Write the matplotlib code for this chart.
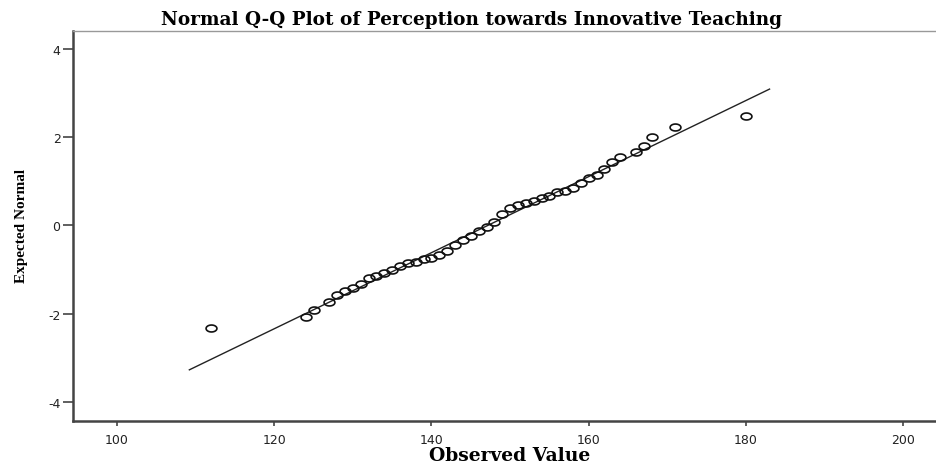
import matplotlib
matplotlib.use('Agg')
import matplotlib.pyplot as plt
import numpy as np
from matplotlib.path import Path

observed = [112, 124, 125, 127, 128, 129, 130, 131, 132, 133, 134, 135, 136, 137,
            138, 139, 140, 141, 142, 143, 144, 145, 146, 147, 148, 149, 150, 151,
            152, 153, 154, 155, 156, 157, 158, 159, 160, 161, 162, 163, 164, 166,
            167, 168, 171, 180]
expected = [-2.34, -2.07, -1.91, -1.74, -1.58, -1.49, -1.43, -1.32, -1.20, -1.15,
            -1.08, -1.01, -0.93, -0.85, -0.82, -0.77, -0.73, -0.67, -0.57, -0.44,
            -0.33, -0.23, -0.13, -0.04, 0.09, 0.25, 0.39, 0.46, 0.51, 0.56,
            0.62, 0.67, 0.75, 0.79, 0.86, 0.96, 1.07, 1.15, 1.29, 1.45,
            1.55, 1.66, 1.81, 2.00, 2.23, 2.48]

# reference line endpoints
line_x = [109.2, 183.0]
line_y = [-3.28, 3.10]

x_ticks = [100, 120, 140, 160, 180, 200]
y_ticks = [-4, -2, 0, 2, 4]

# slightly flattened open circle, as in the original export
t = np.linspace(0, 2 * np.pi, 60)
ellipse = Path(np.column_stack([np.cos(t), 0.64 * np.sin(t)]), closed=True)

fig = plt.figure(figsize=(9.37, 4.64), dpi=100)
ax = fig.add_axes([73 / 937, 42.3 / 464, 1 - 73 / 937, (421.7 - 32) / 464])

ax.plot(line_x, line_y, color='#222222', linewidth=1.0, zorder=2)
ax.plot(observed, expected, linestyle='none', marker=ellipse, markersize=7.8,
        markerfacecolor='none', markeredgecolor='#111111', markeredgewidth=1.2, zorder=3)

ax.set_xlim(94.4, 204.3)
ax.set_ylim(-4.436, 4.42)
ax.set_xticks(x_ticks)
ax.set_yticks(y_ticks)
ax.set_xticklabels([str(v) for v in x_ticks], fontsize=9, family='DejaVu Sans', color='#222222')
ax.set_yticklabels([str(v) for v in y_ticks], fontsize=9, family='DejaVu Sans', color='#222222')
ax.tick_params(axis='x', direction='out', length=3.6, width=1.2, color='#444444', pad=5)
ax.tick_params(axis='y', direction='out', length=7, width=1.2, color='#444444', pad=2)

ax.spines['right'].set_visible(False)
ax.spines['top'].set_color('#999999')
ax.spines['top'].set_linewidth(1.0)
for side in ['left', 'bottom']:
    ax.spines[side].set_color('#444444')
    ax.spines[side].set_linewidth(1.8)

fig.text(472 / 937, 1 - 20 / 464, 'Normal Q-Q Plot of Perception towards Innovative Teaching',
         ha='center', va='center', fontsize=13.3, fontweight='bold', family='DejaVu Serif')
fig.text(510 / 937, 1 - 456 / 464, 'Observed Value',
         ha='center', va='center', fontsize=13.5, fontweight='bold', family='DejaVu Serif')
fig.text(22 / 937, 1 - 226 / 464, 'Expected Normal', rotation=90,
         ha='center', va='center', fontsize=11, fontweight='bold', family='Liberation Serif')

fig.savefig('out.png', dpi=100)
plt.close(fig)
